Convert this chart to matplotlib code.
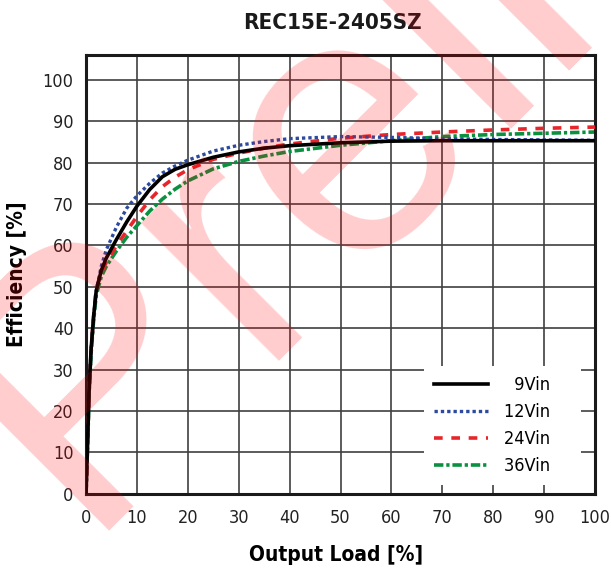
import numpy as np
import matplotlib
matplotlib.use('Agg')
import matplotlib.pyplot as plt

# data
load = [0, 0.3, 0.6, 1, 1.5, 2, 3, 4, 6, 8, 10, 12.5, 15, 17.5, 20, 25, 30, 35, 40, 50, 60, 70, 80, 90, 100]
eff_9v = [0, 12, 25, 35, 43, 49, 54, 57, 61.5, 65.7, 69.5, 73.5, 76.6, 78.4, 79.5, 81.3, 82.6, 83.5, 84.1, 84.8, 85.2, 85.3, 85.3, 85.3, 85.3]
eff_12v = [0, 12, 25, 35, 43, 49, 55, 59, 64.5, 69, 72, 75, 77.5, 79.2, 80.6, 82.8, 84.2, 85.1, 85.8, 86.3, 86.1, 85.8, 85.6, 85.5, 85.4]
eff_24v = [0, 12, 25, 35, 43, 49.5, 53.5, 56, 60, 63.5, 67, 71, 74.2, 76.5, 78.3, 80.8, 82.3, 83.5, 84.5, 85.9, 86.8, 87.4, 87.9, 88.3, 88.6]
eff_36v = [0, 11, 24, 34, 42, 48, 52.5, 55, 58.7, 62, 64.8, 68.3, 71.2, 73.6, 75.6, 78.5, 80.3, 81.6, 82.7, 84.2, 85.3, 86.3, 86.8, 87.1, 87.4]
labels = ['\u20079Vin\u2007\u2007', '12Vin\u2007\u2007', '24Vin\u2007\u2007', '36Vin\u2007\u2007']

title = 'REC15E-2405SZ'
cond = dict(family='DejaVu Sans', stretch='condensed')

fig = plt.figure(figsize=(6.11, 5.70), dpi=100)
ax = fig.add_axes([0.1408, 0.1335, 0.8330, 0.7700])

ax.plot(load, eff_9v, color='black', lw=2.6, ls='-', label=labels[0], zorder=5)
ax.plot(load, eff_12v, color='#2c4a9e', lw=2.4, ls=(0, (1, 0.9)), dash_capstyle='butt', label=labels[1], zorder=4)
ax.plot(load, eff_24v, color='#e8252b', lw=2.6, ls=(0, (2.4, 2.4)), dash_capstyle='butt', label=labels[2], zorder=3)
ax.plot(load, eff_36v, color='#0a9140', lw=2.6, ls=(0, (2.6, 0.8, 0.9, 0.8)), dash_capstyle='butt', label=labels[3], zorder=2)

ax.set_xlim(0, 100)
ax.set_ylim(0, 106)
ax.set_xticks(np.arange(0, 101, 10))
ax.set_yticks(np.arange(0, 101, 10))
ax.grid(True, color='#404040', lw=1.2)
ax.set_axisbelow(True)
ax.tick_params(length=0, labelsize=13, colors='#222222')
ax.tick_params(axis='x', pad=11)
ax.tick_params(axis='y', pad=9)
for lab in ax.get_xticklabels() + ax.get_yticklabels():
    lab.set_family('DejaVu Sans')
    lab.set_stretch('condensed')
for s in ax.spines.values():
    s.set_linewidth(2.2)
    s.set_color('#1a1a1a')

ax.set_xlabel('Output Load [%]', weight='bold', fontsize=15, labelpad=13, **cond)
ax.xaxis.label.set_x(0.492)
ax.set_ylabel('Efficiency [%]', weight='bold', fontsize=15, labelpad=11, **cond)
ax.set_title(title, weight='bold', fontsize=16, pad=19, color='#1a1a1a', x=0.485, **cond)

leg = ax.legend(loc='lower right', bbox_to_anchor=(0.972, 0.02), borderaxespad=0, frameon=True,
                fancybox=False, edgecolor='none', facecolor='white', framealpha=1, handlelength=3.0,
                handletextpad=0.9, labelspacing=0.5, borderpad=0.55,
                prop={'family': 'DejaVu Sans', 'stretch': 'condensed', 'size': 13})
leg.set_zorder(10)

# watermark
fig.text(0.1293, 0.0684, 'Preliminary', fontsize=266, family='Liberation Sans',
         color='red', alpha=0.2, rotation=45, rotation_mode='anchor', ha='left', va='baseline',
         zorder=20)

fig.savefig('out.png', dpi=100)
